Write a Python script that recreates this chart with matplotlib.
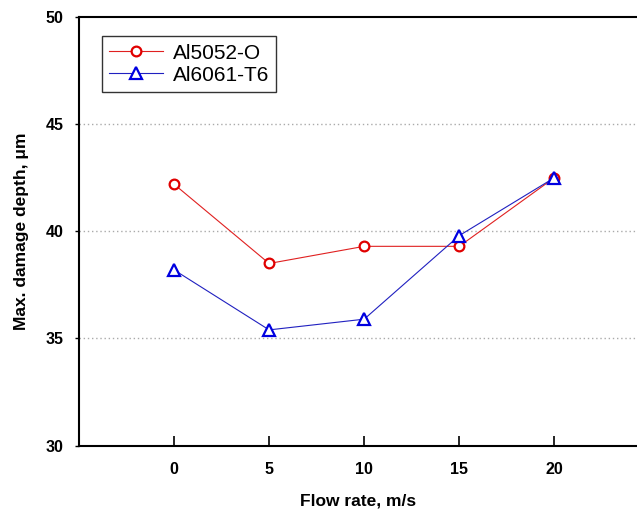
import matplotlib
matplotlib.use("Agg")
import matplotlib.pyplot as plt

flow = [0, 5, 10, 15, 20]
al5052 = [42.2, 38.5, 39.3, 39.3, 42.5]
al6061 = [38.2, 35.4, 35.9, 39.8, 42.5]
xticks = [0, 5, 10, 15, 20]
yticks = [30, 35, 40, 45, 50]

plt.rcParams['font.family'] = ['Liberation Sans', 'DejaVu Sans']

fig = plt.figure(figsize=(6.37, 5.11), dpi=100)
ax = fig.add_axes([0.124, 0.128, 0.876, 0.8386])

ax.plot(flow, al5052, color='#e02020', lw=0.8, marker='o', ms=7,
        mfc='white', mec='#e00000', mew=1.6, label='Al5052-O')
ax.plot(flow, al6061, color='#2020c0', lw=0.8, marker='^', ms=9,
        mfc='white', mec='#0000e0', mew=1.6, label='Al6061-T6')

ax.set_xlim(-5, 24.35)
ax.set_ylim(30, 50)
ax.set_xticks(xticks)
ax.set_yticks(yticks)
for y in [35, 40, 45]:
    ax.axhline(y, color='#aaaaaa', lw=1.0, ls=(0, (1, 2)), zorder=0)

ax.spines['right'].set_visible(False)
for s in ['left', 'top', 'bottom']:
    ax.spines[s].set_linewidth(1.5)
ax.tick_params(axis='x', direction='in', length=7, width=1.2, pad=12)
ax.tick_params(axis='y', direction='out', length=3, width=1.0, pad=8)
ax.tick_params(right=False, top=False)
for lab in ax.get_xticklabels() + ax.get_yticklabels():
    lab.set_fontweight('bold')
    lab.set_fontsize(11.5)

ax.set_xlabel('Flow rate, m/s', fontsize=12.5, fontweight='bold', labelpad=12)
ax.set_ylabel('Max. damage depth, μm', fontsize=12.5, fontweight='bold', labelpad=12)

leg = ax.legend(loc='upper left', bbox_to_anchor=(0.041, 0.955), fontsize=15,
                frameon=True, fancybox=False, edgecolor='black',
                handlelength=2.6, handletextpad=0.45, borderpad=0.35,
                labelspacing=0.15, borderaxespad=0)
leg.get_frame().set_linewidth(1.0)

fig.savefig('out.png', dpi=100)
